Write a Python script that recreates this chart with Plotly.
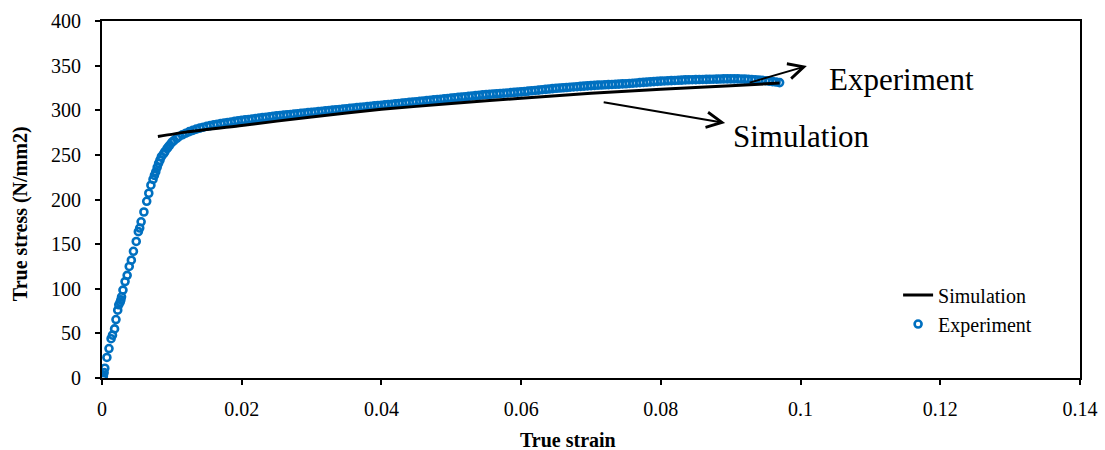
import plotly.graph_objects as go

# Simulation curve (true strain, true stress)
sim_strain = [0.008, 0.012, 0.020, 0.030, 0.040, 0.050, 0.060, 0.070, 0.080, 0.090, 0.097]
sim_stress = [270.5, 275.5, 283.0, 292.5, 301.0, 307.5, 313.5, 319.0, 323.5, 327.5, 330.5]

# Experimental points: elastic part
exp_strain_el = [0.0001, 0.0002, 0.0003, 0.0004, 0.0007, 0.0010, 0.0013, 0.0015, 0.0018, 0.0020,
                 0.00225, 0.0024, 0.0026, 0.0027, 0.0028, 0.0030, 0.0033, 0.0036, 0.0039, 0.0042,
                 0.0045, 0.0049, 0.0052, 0.0054, 0.0056, 0.0060, 0.0064, 0.0067, 0.0070, 0.0073,
                 0.0075, 0.0077, 0.0079, 0.0081, 0.0083, 0.0085, 0.0088, 0.0090, 0.0093, 0.0095,
                 0.0097, 0.0100, 0.0103, 0.0107]
exp_stress_el = [1.0, 2.5, 6.0, 11.0, 23.0, 33.0, 44.0, 48.0, 55.0, 65.5,
                 76.0, 82.0, 85.0, 87.5, 91.0, 98.5, 108.0, 115.0, 125.0, 132.0,
                 142.0, 153.0, 164.0, 168.0, 175.0, 186.0, 198.0, 207.0, 216.0, 222.5,
                 227.0, 231.0, 236.0, 240.5, 244.0, 248.0, 251.0, 253.5, 257.0, 259.0,
                 261.0, 264.0, 266.0, 268.5]

# Experimental points: plastic part
exp_strain_pl = [
    0.0110, 0.0115, 0.0120, 0.0125, 0.0130, 0.0135, 0.0140, 0.0145, 0.0150, 0.0155,
    0.0160, 0.0165, 0.0170, 0.0175, 0.0180, 0.0185, 0.0190, 0.0195, 0.0200, 0.0205,
    0.0210, 0.0215, 0.0220, 0.0225, 0.0230, 0.0235, 0.0240, 0.0245, 0.0250, 0.0255,
    0.0260, 0.0265, 0.0270, 0.0275, 0.0280, 0.0285, 0.0290, 0.0295, 0.0300, 0.0305,
    0.0310, 0.0315, 0.0320, 0.0325, 0.0330, 0.0335, 0.0340, 0.0345, 0.0350, 0.0355,
    0.0360, 0.0365, 0.0370, 0.0375, 0.0380, 0.0385, 0.0390, 0.0395, 0.0400, 0.0405,
    0.0410, 0.0415, 0.0420, 0.0425, 0.0430, 0.0435, 0.0440, 0.0445, 0.0450, 0.0455,
    0.0460, 0.0465, 0.0470, 0.0475, 0.0480, 0.0485, 0.0490, 0.0495, 0.0500, 0.0505,
    0.0510, 0.0515, 0.0520, 0.0525, 0.0530, 0.0535, 0.0540, 0.0545, 0.0550, 0.0555,
    0.0560, 0.0565, 0.0570, 0.0575, 0.0580, 0.0585, 0.0590, 0.0595, 0.0600, 0.0605,
    0.0610, 0.0615, 0.0620, 0.0625, 0.0630, 0.0635, 0.0640, 0.0645, 0.0650, 0.0655,
    0.0660, 0.0665, 0.0670, 0.0675, 0.0680, 0.0685, 0.0690, 0.0695, 0.0700, 0.0705,
    0.0710, 0.0715, 0.0720, 0.0725, 0.0730, 0.0735, 0.0740, 0.0745, 0.0750, 0.0755,
    0.0760, 0.0765, 0.0770, 0.0775, 0.0780, 0.0785, 0.0790, 0.0795, 0.0800, 0.0805,
    0.0810, 0.0815, 0.0820, 0.0825, 0.0830, 0.0835, 0.0840, 0.0845, 0.0850, 0.0855,
    0.0860, 0.0865, 0.0870, 0.0875, 0.0880, 0.0885, 0.0890, 0.0895, 0.0900, 0.0905,
    0.0910, 0.0915, 0.0920, 0.0925, 0.0930, 0.0935, 0.0940, 0.0945, 0.0950, 0.0955,
    0.0960, 0.0965, 0.0970]
exp_stress_pl = [
    270.5, 272.5, 274.3, 276.0, 277.5, 278.8, 280.0, 281.0, 282.0, 282.8,
    283.6, 284.3, 285.0, 285.7, 286.3, 286.9, 287.5, 288.1, 288.7, 289.2,
    289.7, 290.2, 290.7, 291.2, 291.7, 292.2, 292.7, 293.2, 293.7, 294.1,
    294.5, 294.9, 295.3, 295.7, 296.1, 296.5, 296.9, 297.3, 297.7, 298.1,
    298.5, 298.9, 299.3, 299.7, 300.1, 300.5, 300.9, 301.3, 301.7, 302.1,
    302.5, 302.9, 303.3, 303.7, 304.1, 304.5, 304.9, 305.2, 305.6, 306.0,
    306.4, 306.8, 307.2, 307.6, 308.0, 308.4, 308.8, 309.2, 309.6, 310.0,
    310.4, 310.8, 311.2, 311.6, 312.0, 312.4, 312.8, 313.2, 313.6, 314.0,
    314.4, 314.8, 315.2, 315.6, 316.0, 316.4, 316.8, 317.2, 317.6, 317.9,
    318.2, 318.5, 318.8, 319.1, 319.4, 319.7, 320.0, 320.3, 320.6, 321.0,
    321.4, 321.8, 322.2, 322.6, 323.0, 323.4, 323.8, 324.2, 324.6, 324.9,
    325.2, 325.5, 325.8, 326.1, 326.4, 326.7, 327.0, 327.3, 327.6, 327.9,
    328.1, 328.3, 328.5, 328.7, 328.9, 329.1, 329.3, 329.5, 329.7, 330.0,
    330.3, 330.6, 330.9, 331.2, 331.5, 331.8, 332.1, 332.4, 332.6, 332.8,
    333.0, 333.2, 333.4, 333.6, 333.8, 334.0, 334.1, 334.2, 334.3, 334.4,
    334.5, 334.6, 334.7, 334.8, 334.9, 335.0, 335.1, 335.2, 335.2, 335.2,
    335.1, 335.0, 334.9, 334.7, 334.5, 334.2, 333.9, 333.5, 333.1, 332.6,
    332.1, 331.6, 331.0]

exp_strain = exp_strain_el + exp_strain_pl
exp_stress = exp_stress_el + exp_stress_pl

x_ticks = [0, 0.02, 0.04, 0.06, 0.08, 0.1, 0.12, 0.14]
x_tick_labels = ["0", "0.02", "0.04", "0.06", "0.08", "0.1", "0.12", "0.14"]
y_ticks = [0, 50, 100, 150, 200, 250, 300, 350, 400]

FONT = "Liberation Serif, Times New Roman, serif"
BLUE = "#0070C0"

fig = go.Figure()
fig.add_trace(go.Scatter(
    x=exp_strain, y=exp_stress, mode="markers", name="Experiment",
    marker=dict(symbol="circle-open", size=7, color=BLUE, line=dict(width=2.6, color=BLUE)),
))
fig.add_trace(go.Scatter(
    x=sim_strain, y=sim_stress, mode="lines", name="Simulation",
    line=dict(color="black", width=3, shape="spline", smoothing=0.6),
))

# annotation texts and arrows
fig.add_annotation(x=0.1145, y=335, xref="x", yref="y", text="Experiment", showarrow=False,
                   font=dict(family=FONT, size=31, color="black"))
fig.add_annotation(x=0.1002, y=271, xref="x", yref="y", text="Simulation", showarrow=False,
                   font=dict(family=FONT, size=31, color="black"))
fig.add_annotation(x=0.1009, y=349.6, ax=0.0925, ay=330.5, xref="x", yref="y", axref="x", ayref="y",
                   text="", showarrow=True, arrowhead=5, arrowsize=1.5, arrowwidth=2, arrowcolor="black")
fig.add_annotation(x=0.0892, y=285.7, ax=0.0716, ay=309.2, xref="x", yref="y", axref="x", ayref="y",
                   text="", showarrow=True, arrowhead=5, arrowsize=1.5, arrowwidth=2, arrowcolor="black")

# axis titles
fig.add_annotation(x=-0.0838, y=0.459, xref="paper", yref="paper", text="<b>True stress (N/mm2)</b>",
                   textangle=-90, showarrow=False, xanchor="center", yanchor="middle",
                   font=dict(family=FONT, size=20, color="black"))
fig.add_annotation(x=0.4765, y=-0.174, xref="paper", yref="paper", text="<b>True strain</b>",
                   showarrow=False, xanchor="center", yanchor="middle",
                   font=dict(family=FONT, size=20, color="black"))

axis_common = dict(showline=True, linecolor="black", linewidth=2, mirror=True,
                   ticks="outside", ticklen=5, tickwidth=2, tickcolor="black",
                   showgrid=False, zeroline=False, automargin=False,
                   tickfont=dict(family=FONT, size=20, color="black"))

fig.update_xaxes(range=[0, 0.14], tickvals=x_ticks, ticktext=x_tick_labels,
                 ticklabelstandoff=7, **axis_common)
fig.update_yaxes(range=[0, 400], tickvals=y_ticks, ticklabelstandoff=10, **axis_common)

fig.update_layout(
    width=1105, height=450,
    margin=dict(l=102, r=25, t=21, b=72),
    paper_bgcolor="white", plot_bgcolor="white",
    showlegend=True,
    legend=dict(x=0.814, y=0.287, xanchor="left", yanchor="top",
                traceorder="reversed", bgcolor="rgba(0,0,0,0)",
                font=dict(family=FONT, size=20, color="black"),
                tracegroupgap=0, itemsizing="trace"),
)

fig.write_html("out.html")
